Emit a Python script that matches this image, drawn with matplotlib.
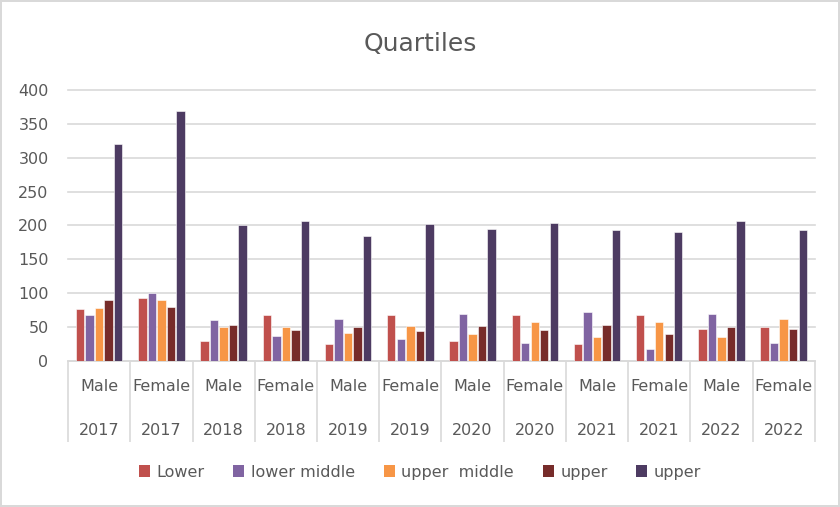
import numpy as np
import matplotlib.pyplot as plt
from matplotlib.patches import Patch

plt.rcParams['font.family'] = ['DejaVu Sans']

sexes = ['Male', 'Female'] * 6
years = ['2017', '2017', '2018', '2018', '2019', '2019',
         '2020', '2020', '2021', '2021', '2022', '2022']

series_names = ['Lower', 'lower middle', 'upper  middle', 'upper', 'upper']
colors = ['#C0504D', '#8064A2', '#F79646', '#772C2A', '#4D3B62']

lower = [76, 93, 30, 68, 25, 68, 29, 68, 25, 68, 47, 50]
lower_middle = [68, 100, 61, 37, 62, 32, 70, 27, 73, 18, 70, 27]
upper_middle = [78, 90, 50, 50, 42, 52, 40, 57, 35, 58, 35, 62]
upper = [90, 80, 53, 45, 50, 44, 52, 45, 53, 40, 50, 47]
upper_top = [320, 369, 200, 207, 185, 202, 195, 203, 193, 190, 207, 193]

series = [lower, lower_middle, upper_middle, upper, upper_top]

grey = '#595959'
light = '#D9D9D9'

fig = plt.figure(figsize=(8.4, 5.07), dpi=100)
fig.patch.set_edgecolor(light)
fig.patch.set_linewidth(1.5)
ax = fig.add_axes([0.081, 0.288, 0.889, 0.5345])

x = np.arange(len(sexes))
pitch = 0.153
width = 0.135
for i, vals in enumerate(series):
    ax.bar(x + (i - 2) * pitch, vals, width, color=colors[i],
           edgecolor='white', linewidth=0.4, zorder=3)

ax.set_xlim(-0.5, 11.5)
ax.set_ylim(0, 400)
ax.set_yticks(range(0, 401, 50))
ax.yaxis.grid(True, color=light, linewidth=1.2, zorder=0)
for gl in ax.get_ygridlines():
    gl.set_clip_on(False)
ax.tick_params(axis='y', length=0, pad=14, labelsize=11.5, labelcolor=grey)

for s in ['top', 'right', 'left']:
    ax.spines[s].set_visible(False)
ax.spines['bottom'].set_color(light)
ax.spines['bottom'].set_linewidth(1.2)

# category separators
ax.set_xticks([])
ax.set_xticks(np.arange(-0.5, 12, 1), minor=True)
ax.tick_params(axis='x', which='minor', length=58, width=1.2, color=light,
               labelbottom=False)

for xi, s, y in zip(x, sexes, years):
    ax.text(xi, -0.096, s, transform=ax.get_xaxis_transform(),
            ha='center', va='center', fontsize=11.5, color=grey)
    ax.text(xi, -0.255, y, transform=ax.get_xaxis_transform(),
            ha='center', va='center', fontsize=11.5, color=grey)

fig.text(0.5, 0.913, 'Quartiles', ha='center', va='center',
         fontsize=18, color=grey)

handles = [Patch(facecolor=c) for c in colors]
fig.legend(handles, series_names, loc='center', bbox_to_anchor=(0.5, 0.069),
           ncol=5, frameon=False, fontsize=11.5, labelcolor=grey,
           handlelength=0.7, handleheight=0.7, handletextpad=0.4,
           columnspacing=1.8)

fig.savefig('out.png', dpi=100, edgecolor=fig.get_edgecolor())
